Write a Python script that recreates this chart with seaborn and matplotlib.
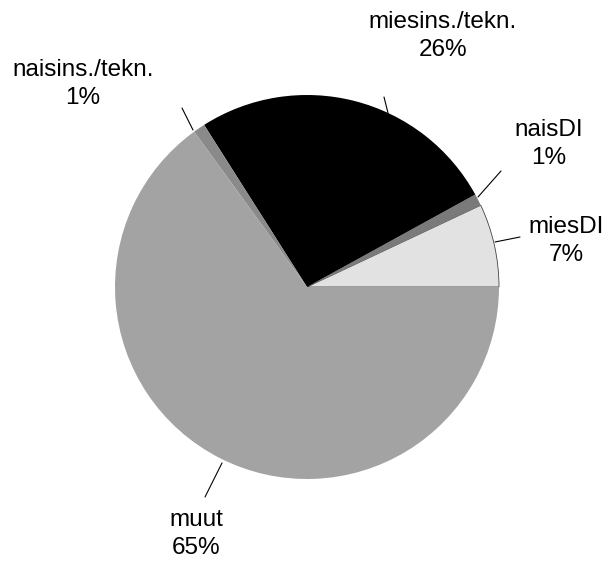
import matplotlib
matplotlib.use("Agg")
import matplotlib.pyplot as plt
import seaborn as sns

labels = ["miesDI", "naisDI", "miesins./tekn.", "naisins./tekn.", "muut"]
values = [7, 1, 26, 1, 65]
colors = ["#e2e2e2", "#7a7a7a", "#000000", "#8a8a8a", "#a3a3a3"]

sns.set_theme(style="white")
plt.rcParams['font.family'] = ['Liberation Sans', 'DejaVu Sans']

W, H = 615, 568
fig = plt.figure(figsize=(W / 100, H / 100), dpi=100)
ax = fig.add_axes([0, 0, 1, 1])

cx, cy, r = 307, H - 287, 192
wedges, _ = ax.pie(values, colors=colors, startangle=0, counterclock=True,
                   center=(cx, cy), radius=r, frame=True,
                   wedgeprops=dict(linewidth=0, antialiased=True))
# thin dark outline on the light slice, as in the reference
wedges[0].set_edgecolor("#444444")
wedges[0].set_linewidth(0.6)
ax.set_xlim(0, W)
ax.set_ylim(0, H)
ax.set_aspect('equal')
ax.axis('off')

label_pos = {
    "miesDI": (566, 241),
    "naisDI": (549, 144),
    "miesins./tekn.": (443, 36),
    "naisins./tekn.": (83, 84),
    "muut": (196, 534),
}
leaders = {
    "miesDI": ((495, 242), (520, 237)),
    "naisDI": ((478, 197), (501, 171)),
    "miesins./tekn.": ((384, 97), (389, 117)),
    "naisins./tekn.": ((182, 108), (193, 130)),
    "muut": ((222, 463), (205, 497)),
}
for lab, v in zip(labels, values):
    x, y = label_pos[lab]
    ax.text(x, H - y, f"{lab}\n{v}%", ha='center', va='center',
            fontsize=17.5, linespacing=1.35, color='black')
    (x0, y0), (x1, y1) = leaders[lab]
    ax.plot([x0, x1], [H - y0, H - y1], color='black', lw=0.8)

fig.savefig("out.png", dpi=100)
